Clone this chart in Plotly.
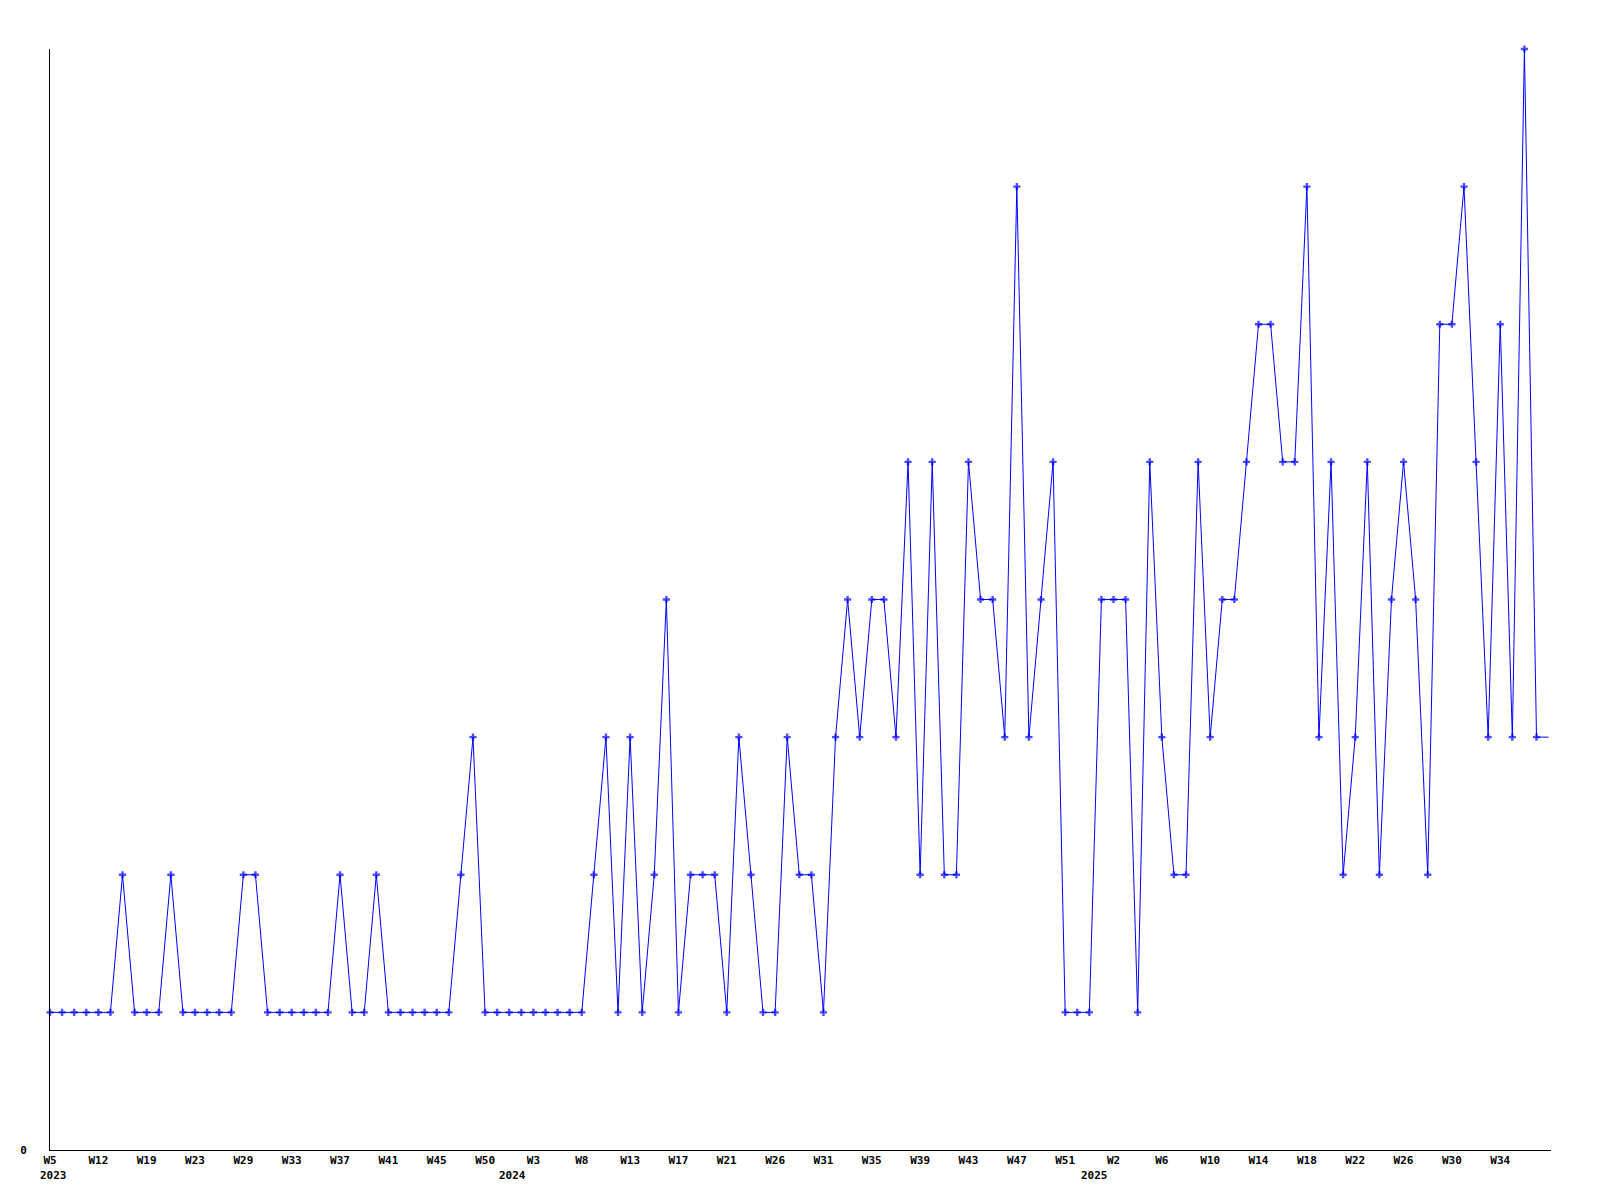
import plotly.graph_objects as go

# ---- data ----
weeks_2023 = [5, 6, 8, 10, 12, 14, 16, 18, 19, 20, 21, 22, 23, 25, 26, 28, 29, 30, 31, 32,
              33, 34, 35, 36, 37, 38, 39, 40, 41, 42, 43, 44, 45, 46, 47, 49, 50, 51, 52]
weeks_2024 = [1, 3, 4, 5, 7, 8, 9, 11, 12, 13, 14, 15, 16, 17, 18, 19, 20, 21, 22, 23,
              25, 26, 27, 28, 30, 31, 32, 33, 34, 35, 36, 37, 38, 39, 40, 41, 42, 43, 44, 45,
              46, 47, 48, 49, 50, 51, 52, 53]
weeks_2025 = list(range(1, 39))

values = [
    1, 1, 1, 1, 1, 1, 2, 1, 1, 1,
    2, 1, 1, 1, 1, 1, 2, 2, 1, 1,
    1, 1, 1, 1, 2, 1, 1, 2, 1, 1,
    1, 1, 1, 1, 2, 3, 1, 1, 1, 1,
    1, 1, 1, 1, 1, 2, 3, 1, 3, 1,
    2, 4, 1, 2, 2, 2, 1, 3, 2, 1,
    1, 3, 2, 2, 1, 3, 4, 3, 4, 4,
    3, 5, 2, 5, 2, 2, 5, 4, 4, 3,
    7, 3, 4, 5, 1, 1, 1, 4, 4, 4,
    1, 5, 3, 2, 2, 5, 3, 4, 4, 5,
    6, 6, 5, 5, 7, 3, 5, 2, 3, 5,
    2, 4, 5, 4, 2, 6, 6, 7, 5, 3,
    6, 3, 8, 3, 3,
]

year_labels = ["2023", "2024", "2025"]

categories = ([f"2023-W{w:02d}" for w in weeks_2023]
              + [f"2024-W{w:02d}" for w in weeks_2024]
              + [f"2025-W{w:02d}" for w in weeks_2025])
week_numbers = weeks_2023 + weeks_2024 + weeks_2025

n_marked = len(values) - 1  # last (current) point drawn without a marker
tick_idx = list(range(0, n_marked, 4))
tickvals = [categories[i] for i in tick_idx]
ticktext = [f"W{week_numbers[i]}" for i in tick_idx]

font_family = "DejaVu Sans Mono"

fig = go.Figure()
fig.add_trace(go.Scatter(
    x=categories,
    y=values,
    mode="lines+markers",
    line=dict(color="#0000ff", width=1),
    marker=dict(symbol="cross", size=[6] * n_marked + [0], color="#0000ff",
                line=dict(width=0)),
    cliponaxis=False,
    showlegend=False,
))

year_anchor = ["2023-W05", "2024-W01", "2025-W01"]
year_shift = [3, -9, -7]
for lab, anc, sh in zip(year_labels, year_anchor, year_shift):
    fig.add_annotation(x=anc, y=0, xref="x", yref="paper", text=lab,
                       showarrow=False, yanchor="top", yshift=-17, xshift=sh,
                       font=dict(family=font_family, size=11, color="black", weight="bold"))

fig.update_layout(
    width=1592, height=1192,
    margin=dict(l=42, r=49, t=41, b=50),
    paper_bgcolor="white", plot_bgcolor="white",
    xaxis=dict(
        type="category",
        range=[0, 124.2],
        tickvals=tickvals, ticktext=ticktext,
        showgrid=False, zeroline=False,
        showline=True, linecolor="black", linewidth=1,
        ticks="", tickangle=0,
        tickfont=dict(family=font_family, size=11, color="black", weight="bold"),
    ),
    yaxis=dict(
        range=[0, 8],
        tickvals=[0], ticktext=["0"],
        showgrid=False, zeroline=False,
        showline=True, linecolor="black", linewidth=1,
        ticks="", ticklabelstandoff=20,
        tickfont=dict(family=font_family, size=11, color="black", weight="bold"),
    ),
)

fig.write_html("out.html")
